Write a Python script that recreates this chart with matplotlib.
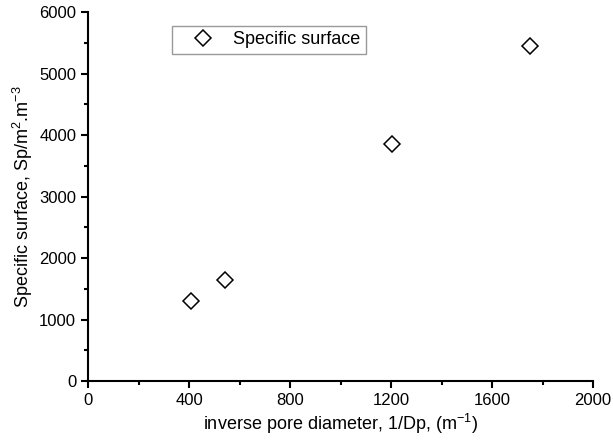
import matplotlib.pyplot as plt
from matplotlib.ticker import MultipleLocator

plt.rcParams['font.family'] = ['Liberation Sans', 'DejaVu Sans']
plt.rcParams['mathtext.default'] = 'regular'

# data
inv_diameter = [408, 542, 1205, 1750]
spec_surface = [1300, 1650, 3860, 5450]

fig = plt.figure(figsize=(6.13, 4.45), dpi=100)
ax = fig.add_axes([0.1436, 0.1438, 0.8238, 0.829])

ax.plot(inv_diameter, spec_surface, linestyle='none', marker='D', markersize=8,
        markerfacecolor='white', markeredgecolor='black', markeredgewidth=1.1,
        label='Specific surface')

ax.set_xlim(0, 2000)
ax.set_ylim(0, 6000)
ax.xaxis.set_major_locator(MultipleLocator(400))
ax.xaxis.set_minor_locator(MultipleLocator(200))
ax.yaxis.set_major_locator(MultipleLocator(1000))
ax.yaxis.set_minor_locator(MultipleLocator(500))

ax.spines['top'].set_visible(False)
ax.spines['right'].set_visible(False)
ax.spines['left'].set_linewidth(1.5)
ax.spines['bottom'].set_linewidth(1.5)
ax.tick_params(which='major', direction='out', length=5, width=1.5, labelsize=12)
ax.tick_params(which='minor', direction='out', length=3, width=1.5)

ax.set_xlabel('inverse pore diameter, 1/Dp, (m$^{-1}$)', fontsize=13, labelpad=3)
ax.set_ylabel('Specific surface, Sp/m$^{2}$.m$^{-3}$', fontsize=13, labelpad=3)

leg = ax.legend(loc='upper left', bbox_to_anchor=(0.166, 0.963), borderaxespad=0,
                fontsize=13, fancybox=False, edgecolor='gray', handlelength=2.8,
                borderpad=0.3, handletextpad=0.3)
leg.get_frame().set_linewidth(1.0)

fig.savefig('out.png', dpi=100)
